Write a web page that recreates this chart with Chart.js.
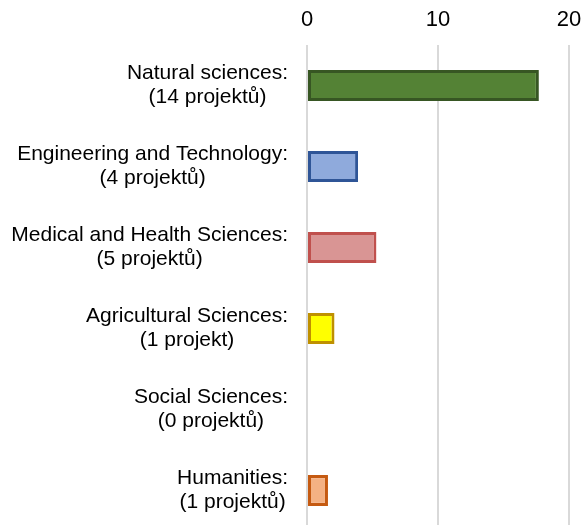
<!DOCTYPE html>
<html>
<head>
<meta charset="utf-8">
<script src="https://cdn.jsdelivr.net/npm/chart.js@4/dist/chart.umd.min.js"></script>
<style>
  html, body { margin: 0; padding: 0; background: #fff; overflow: hidden; }
  #wrap { position: relative; width: 582px; height: 531px; }
</style>
</head>
<body>
<div id="wrap"><canvas id="chart"></canvas></div>
<script>
'use strict';

// categories (two-line labels) and values
const categories = [
  ['Natural sciences:', '(14 projektů)'],
  ['Engineering and Technology:', '(4 projektů)'],
  ['Medical and Health Sciences:', '(5 projektů)'],
  ['Agricultural Sciences:', '(1 projekt)'],
  ['Social Sciences:', '(0 projektů)'],
  ['Humanities:', '(1 projektů)']
];
const values = [17.7, 3.9, 5.3, 2.1, 0, 1.6];
const xTicks = [0, 10, 20];

const fillColors   = ['#548235', '#8faadc', '#d99594', '#ffff00', '#a5a5a5', '#f4b183'];
const borderColors = ['#375623', '#2f5597', '#c0504d', '#bf9000', '#7f7f7f', '#c55a11'];

const FONT = 'Liberation Sans, Arial, sans-serif';

// draws the category labels: block right-aligned, lines centred within the block
const labelPlugin = {
  id: 'catLabels',
  afterDraw(chart) {
    const { ctx, chartArea } = chart;
    const y = chart.scales.y;
    ctx.save();
    ctx.font = '21px ' + FONT;
    ctx.fillStyle = '#000';
    ctx.textAlign = 'center';
    ctx.textBaseline = 'middle';
    const right = chartArea.left - 19;
    categories.forEach((lines, i) => {
      const w = Math.max(...lines.map(l => ctx.measureText(l).width));
      const cx = right - w / 2;
      const cy = y.getPixelForValue(i);
      lines.forEach((l, j) => {
        ctx.fillText(l, cx, cy + (j - (lines.length - 1) / 2) * 24);
      });
    });
    ctx.restore();
  }
};

new Chart(document.getElementById('chart'), {
  type: 'bar',
  data: {
    labels: categories,
    datasets: [{
      data: values,
      backgroundColor: fillColors,
      borderColor: borderColors,
      borderWidth: 3,
      borderSkipped: false,
      categoryPercentage: 1,
      barPercentage: 0.38
    }]
  },
  options: {
    indexAxis: 'y',
    responsive: true,
    maintainAspectRatio: false,
    animation: false,
    layout: { padding: 0 },
    plugins: { legend: { display: false }, tooltip: { enabled: false } },
    scales: {
      x: {
        position: 'top',
        min: 0, max: 20,
        afterBuildTicks: s => { s.ticks = xTicks.map(v => ({ value: v })); },
        afterFit: s => { s.height = 45; s.paddingRight = 13; s.paddingLeft = 0; },
        grid: { color: '#d9d9d9', lineWidth: 2, drawTicks: false },
        border: { display: false },
        ticks: { color: '#000', font: { size: 22, family: FONT }, padding: 12 }
      },
      y: {
        afterFit: s => { s.width = 307; },
        grid: { display: false },
        border: { display: false },
        ticks: { display: false }
      }
    }
  },
  plugins: [labelPlugin]
});
</script>
</body>
</html>
